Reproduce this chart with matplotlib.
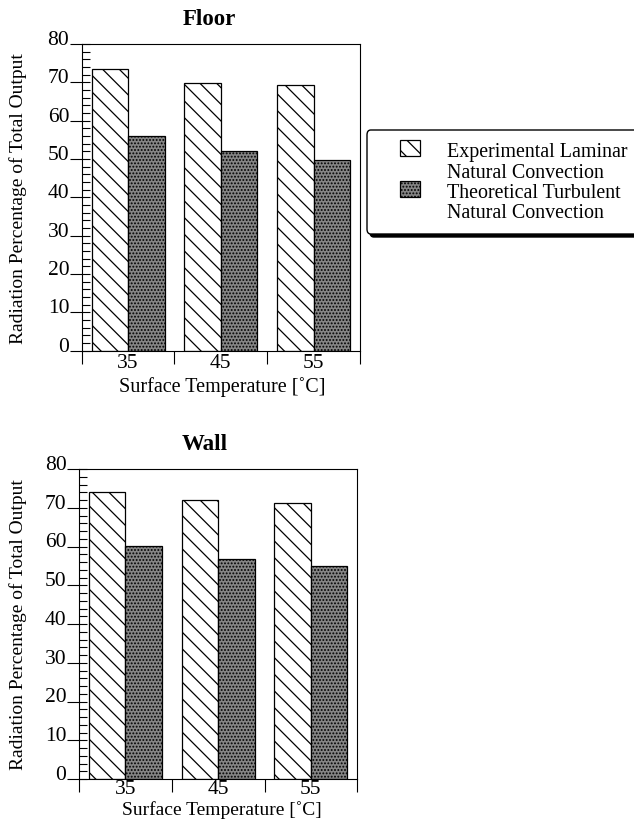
import matplotlib
matplotlib.use('Agg')
import matplotlib.pyplot as plt
import numpy as np
from matplotlib.patches import Rectangle, FancyBboxPatch
from matplotlib.ticker import MultipleLocator, FixedLocator, NullFormatter, FixedFormatter

plt.rcParams['font.family'] = ['Liberation Serif', 'DejaVu Serif']
plt.rcParams['hatch.linewidth'] = 0.9

# ---- data ----
temps = ['35', '45', '55']
floor_exp = [73.5, 69.9, 69.2]
floor_theo = [55.9, 52.0, 49.8]
wall_exp = [74.0, 72.1, 71.1]
wall_theo = [60.2, 56.8, 54.9]
series_labels = ['Experimental Laminar\nNatural Convection',
                 'Theoretical Turbulent\nNatural Convection']
titles = ['Floor', 'Wall']
yticks = [0, 10, 20, 30, 40, 50, 60, 70, 80]
xlabel = 'Surface Temperature [\u02daC]'
ylabel = 'Radiation Percentage of Total Output'

FS = 14
TFS = 15.5
W, H = 634, 820
fig = plt.figure(figsize=(W / 100, H / 100), dpi=100)

def px_axes(l, r, t, b):
    return fig.add_axes([l / W, 1 - b / H, (r - l) / W, (b - t) / H])

exp_style = dict(facecolor='white', edgecolor='black', hatch='\\\\', linewidth=0.9)
theo_style = dict(facecolor='#858585', edgecolor='black', hatch='.....', linewidth=0.9)

def draw(ax, exp_vals, theo_vals, title, tpos, xlpos, xlfs, xpad):
    n = len(temps)
    x = np.arange(n) + 0.5
    bw = 0.393
    ax.bar(x - bw / 2, exp_vals, bw, **exp_style)
    ax.bar(x + bw / 2, theo_vals, bw, **theo_style)
    ax.set_xlim(0, n)
    ax.set_ylim(0, 80)
    for s in ax.spines.values():
        s.set_linewidth(0.8)
    # x ticks: boundaries (major), labels at centres (minor)
    ax.xaxis.set_major_locator(FixedLocator(np.arange(n + 1)))
    ax.xaxis.set_major_formatter(NullFormatter())
    ax.xaxis.set_minor_locator(FixedLocator(x))
    ax.xaxis.set_minor_formatter(FixedFormatter(temps))
    ax.tick_params(axis='x', which='major', direction='out', length=9, width=0.8)
    ax.tick_params(axis='x', which='minor', length=0, pad=xpad, labelsize=TFS)
    # y ticks
    ax.yaxis.set_major_locator(FixedLocator(yticks))
    ax.yaxis.set_minor_locator(MultipleLocator(2))
    ax.yaxis.remove_overlapping_locs = False
    ax.tick_params(axis='y', which='major', direction='out', length=9, width=0.8,
                   pad=0, labelsize=TFS)
    ax.tick_params(axis='y', which='minor', direction='in', length=6, width=0.8)
    for lbl in ax.get_yticklabels():
        lbl.set_va('baseline')
    ax.set_xlabel(xlabel, fontsize=xlfs)
    ax.xaxis.set_label_coords(*xlpos)
    ax.xaxis.label.set_va('baseline')
    ax.set_ylabel(ylabel, fontsize=FS)
    ax.yaxis.label.set_va('center')
    ax.text(tpos[0], tpos[1], title, transform=ax.transAxes, ha='center',
            va='center', fontsize=16.5, fontweight='bold')

ax1 = px_axes(81.7, 360, 45, 351.7)
draw(ax1, floor_exp, floor_theo, titles[0], (0.457, 1.082), (0.504, -0.131), 14.5, 1.5)
ax1.yaxis.set_label_coords((18 - 81.7) / (360 - 81.7), 0.5)

ax2 = px_axes(79, 357.3, 470, 780)
draw(ax2, wall_exp, wall_theo, titles[1], (0.453, 1.083), (0.513, -0.112), 14.0, 0.3)
ax2.yaxis.set_label_coords((18 - 79) / (357.3 - 79), 0.5)

# ---- legend (figure-level box) ----
def fx(px):
    return px / W

def fy(py):
    return 1 - py / H

bx0, bx1, by0, by1 = 367, 660, 131, 235
shadow = FancyBboxPatch((fx(bx0 + 3), fy(by1 + 3)), fx(bx1 - bx0), (by1 - by0) / H,
                        boxstyle='round,pad=0,rounding_size=0.006',
                        transform=fig.transFigure, facecolor='black',
                        edgecolor='black', linewidth=1)
box = FancyBboxPatch((fx(bx0), fy(by1)), fx(bx1 - bx0), (by1 - by0) / H,
                     boxstyle='round,pad=0,rounding_size=0.006',
                     transform=fig.transFigure, facecolor='white',
                     edgecolor='black', linewidth=1)
fig.patches.extend([shadow, box])

handle_styles = [exp_style, theo_style]
handle_tops = [141, 182]
text_baselines = [[157, 177.5], [198, 218]]
for lab, st, ht, bls in zip(series_labels, handle_styles, handle_tops, text_baselines):
    fig.patches.append(Rectangle((fx(400), fy(ht + 16)), fx(20), 16 / H,
                                 transform=fig.transFigure, **st))
    for line, bl in zip(lab.split('\n'), bls):
        fig.text(fx(447), fy(bl), line, ha='left', va='baseline', fontsize=14.4)

fig.savefig('out.png', dpi=100)
